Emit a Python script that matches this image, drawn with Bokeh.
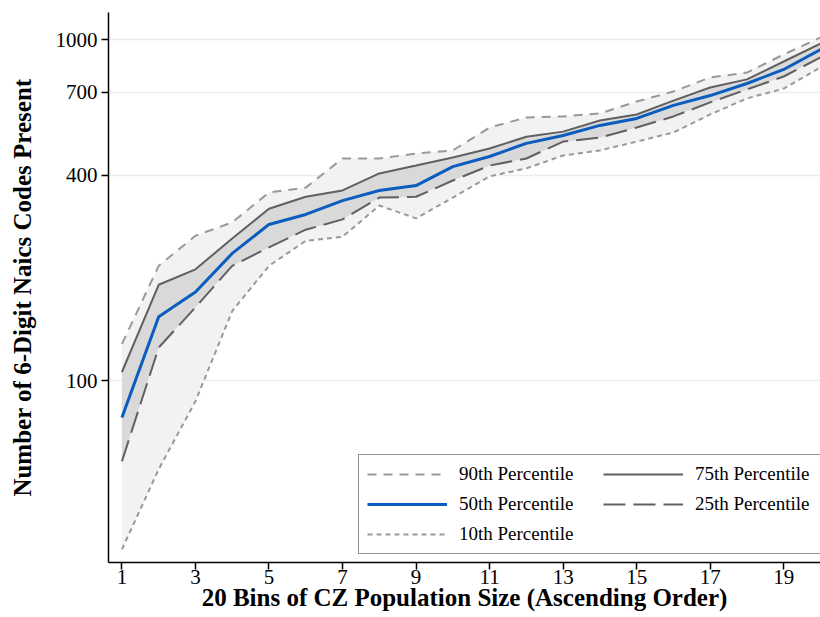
from bokeh.plotting import figure
from bokeh.models import Range1d, FixedTicker, Legend, LegendItem
from bokeh.embed import file_html
from bokeh.resources import INLINE

# ---- data ----
bins = list(range(1, 21))
p90 = [128, 217, 266, 291, 356, 368, 448, 448, 463, 473, 552, 591, 595, 607, 658, 704, 774, 800, 904, 1014]
p75 = [106, 191, 212, 261, 319, 346, 361, 405, 427, 451, 479, 519, 537, 579, 603, 662, 723, 764, 862, 973]
p50 = [78, 154, 182, 236, 287, 307, 337, 361, 373, 424, 454, 496, 523, 560, 587, 641, 685, 743, 817, 935]
p25 = [58, 125, 164, 217, 246, 277, 297, 344, 346, 386, 427, 448, 502, 516, 552, 595, 654, 714, 779, 886]
p10 = [32, 55, 87, 160, 217, 257, 264, 326, 299, 344, 397, 419, 457, 473, 502, 534, 603, 672, 718, 828]

x_ticks = [1, 3, 5, 7, 9, 11, 13, 15, 17, 19]
x_tick_labels = ["1", "3", "5", "7", "9", "11", "13", "15", "17", "19"]
y_ticks = [100, 400, 700, 1000]
y_tick_labels = ["100", "400", "700", "1000"]

legend_labels = ["90th Percentile", "75th Percentile", "50th Percentile",
                 "25th Percentile", "10th Percentile"]
x_title = "20 Bins of CZ Population Size (Ascending Order)"
y_title = "Number of 6-Digit Naics Codes Present"

FONT = "Liberation Serif"

p = figure(width=820, height=617, y_axis_type="log",
           x_range=Range1d(0.635, 20.0), y_range=Range1d(29.3, 1200),
           output_backend="svg", toolbar_location=None,
           min_border_left=108, min_border_right=0,
           min_border_top=12, min_border_bottom=55)
p.outline_line_color = None
p.background_fill_color = "white"
p.border_fill_color = "white"

# grid
p.xgrid.grid_line_color = None
p.ygrid.ticker = FixedTicker(ticks=y_ticks)
p.ygrid.grid_line_color = "#e6eef0"
p.ygrid.grid_line_width = 1.5

# bands
p.varea(x=bins, y1=p10, y2=p90, fill_color="#f2f2f2")
p.varea(x=bins, y1=p25, y2=p75, fill_color="#d9d9d9")

# lines
r90 = p.line(bins, p90, line_color="#999999", line_width=2, line_dash="9 7")
r75 = p.line(bins, p75, line_color="#606060", line_width=2)
r50 = p.line(bins, p50, line_color="#0b5cbf", line_width=3)
r25 = p.line(bins, p25, line_color="#606060", line_width=2, line_dash="22 8")
r10 = p.line(bins, p10, line_color="#999999", line_width=2, line_dash="5 4")

# axes
for ax in (p.xaxis[0], p.yaxis[0]):
    ax.axis_line_color = "black"
    ax.axis_line_width = 1.5
    ax.major_tick_line_color = "black"
    ax.major_tick_line_width = 1.5
    ax.major_tick_out = 7
    ax.major_tick_in = 0
    ax.minor_tick_line_color = None
    ax.major_label_text_font = FONT
    ax.major_label_text_font_size = "21px"
    ax.major_label_text_color = "black"
    ax.axis_label_text_font = FONT
    ax.axis_label_text_font_style = "bold"
    ax.axis_label_text_font_size = "25px"
    ax.axis_label_text_color = "black"

p.xaxis.ticker = FixedTicker(ticks=x_ticks)
p.xaxis.major_label_overrides = dict(zip(x_ticks, x_tick_labels))
p.xaxis.major_label_standoff = 0
p.xaxis.axis_label = x_title
p.xaxis.axis_label_standoff = -3

p.yaxis.ticker = FixedTicker(ticks=y_ticks)
p.yaxis.major_label_overrides = dict(zip(y_ticks, y_tick_labels))
p.yaxis.major_label_orientation = "horizontal"
p.yaxis.major_label_standoff = 4
p.yaxis.axis_label = y_title
p.yaxis.axis_label_standoff = 17

legend = Legend(items=[LegendItem(label=legend_labels[0], renderers=[r90]),
                       LegendItem(label=legend_labels[1], renderers=[r75]),
                       LegendItem(label=legend_labels[2], renderers=[r50]),
                       LegendItem(label=legend_labels[3], renderers=[r25]),
                       LegendItem(label=legend_labels[4], renderers=[r10])],
                orientation="horizontal", ncols=2,
                location=(250, 8), margin=0, padding=8, spacing=8,
                glyph_width=80, glyph_height=20, label_height=20,
                label_width=136, label_standoff=12,
                label_text_font=FONT, label_text_font_size="19px",
                label_text_color="black",
                border_line_color="#222222", border_line_width=1.5,
                background_fill_color="white", background_fill_alpha=1.0)
p.add_layout(legend, "center")

open("out.html", "w").write(file_html(p, INLINE))
